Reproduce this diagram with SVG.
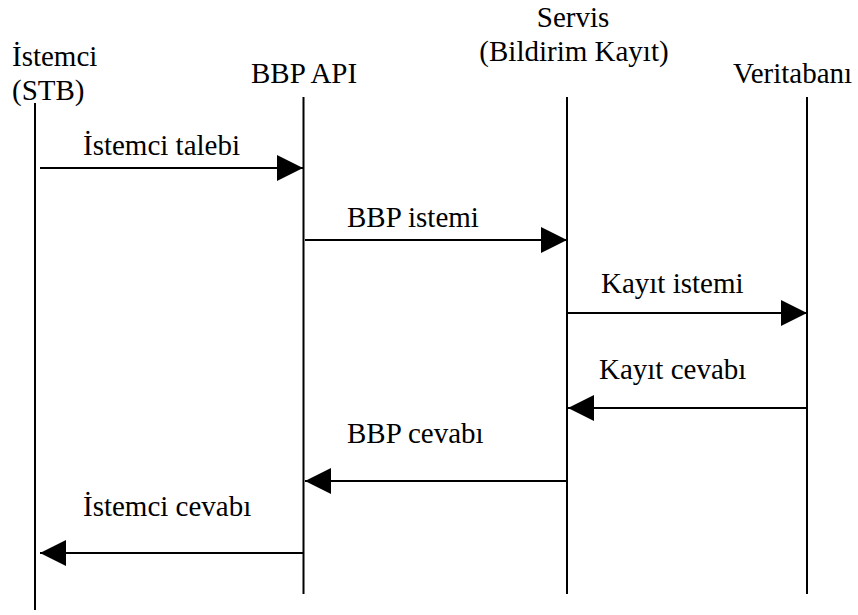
<svg xmlns="http://www.w3.org/2000/svg" width="858" height="615" viewBox="0 0 858 615">
<style>
text{font-family:'Liberation Serif','Times New Roman',Tinos,'DejaVu Serif',serif;font-size:29px;fill:#000}
.life{stroke:#000;stroke-width:2;fill:none}
.msg{stroke:#000;stroke-width:2;fill:none;marker-end:url(#ah)}
</style>
<defs>
<marker id="ah" markerUnits="userSpaceOnUse" markerWidth="26" markerHeight="26" refX="26" refY="13" orient="auto">
<path d="M0,0 L26,13 L0,26 z" fill="#000"/>
</marker>
</defs>
<rect width="858" height="615" fill="#fff"/>
<g font-family="Liberation Serif, Times New Roman, DejaVu Serif, serif">
<g id="istemci">
<text x="12" y="66">İstemci</text>
<text x="12" y="100">(STB)</text>
<line class="life" x1="35" y1="103" x2="35" y2="610"/>
</g>
<g id="bbp-api">
<text x="251" y="83">BBP API</text>
<line class="life" x1="303.5" y1="97" x2="303.5" y2="594"/>
</g>
<g id="servis">
<text x="573" y="27" text-anchor="middle">Servis</text>
<text x="574" y="61" text-anchor="middle">(Bildirim Kayıt)</text>
<line class="life" x1="567" y1="97" x2="567" y2="594"/>
</g>
<g id="veritabani">
<text x="733" y="83">Veritabanı</text>
<line class="life" x1="807" y1="97" x2="807" y2="594"/>
</g>
<g id="connectors">
<line class="msg" x1="40" y1="168" x2="303" y2="168"/>
<text x="83" y="155">İstemci talebi</text>
<line class="msg" x1="305" y1="240" x2="567" y2="240"/>
<text x="347" y="227">BBP istemi</text>
<line class="msg" x1="567" y1="313" x2="807" y2="313"/>
<text x="601" y="293">Kayıt istemi</text>
<line class="msg" x1="807" y1="408" x2="568" y2="408"/>
<text x="599" y="379">Kayıt cevabı</text>
<line class="msg" x1="567" y1="481" x2="305" y2="481"/>
<text x="347" y="443">BBP cevabı</text>
<line class="msg" x1="303" y1="553" x2="40" y2="553"/>
<text x="83" y="516">İstemci cevabı</text>
</g>
</g>
</svg>
